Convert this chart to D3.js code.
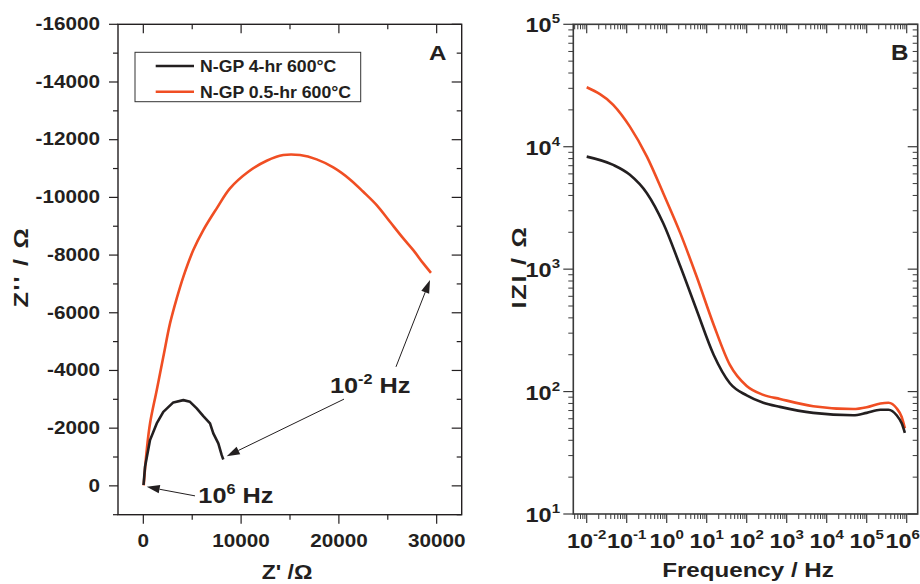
<!DOCTYPE html>
<html>
<head>
<meta charset="utf-8">
<script src="https://cdn.jsdelivr.net/npm/d3@7"></script>
<style>
  body { margin: 0; background: #fff; }
  svg { display: block; font-family: "Liberation Sans", Arial, sans-serif; font-weight: bold; }
</style>
</head>
<body>
<svg id="fig" width="920" height="584"></svg>
<script>
// Nyquist data (panel A), ohm
var zre4hr  = [20, 174, 685, 1370, 2045, 3067, 4090, 4775, 5460, 6135, 6820, 7157, 7669, 8016, 8180];
var zim4hr  = [-30, -659, -1585, -2164, -2566, -2892, -2972, -2913, -2684, -2417, -2164, -1817, -1470, -1064, -915];
var zre05hr = [40, 348, 685, 1370, 2045, 2730, 3415, 4090, 5112, 6135, 7505, 8865, 10736, 12617, 14315, 16022, 17730, 19427, 21135, 22495, 23865, 25225, 26585, 27607, 28630, 29417];
var zim05hr = [-20, -1238, -2164, -3318, -4473, -5631, -6498, -7247, -8173, -8866, -9619, -10312, -10888, -11269, -11467, -11467, -11318, -11040, -10624, -10194, -9733, -9154, -8578, -8173, -7711, -7386];

// Bode data (panel B)
var freq    = [0.01, 0.046, 0.12, 0.32, 0.82, 2.2, 5.6, 15, 38, 100, 260, 680, 4600, 46000, 1e5, 2.2e5, 3.5e5, 5.6e5, 7.5e5, 9e5];
var mod4hr  = [8300, 7100, 5900, 4170, 2370, 1050, 464, 199, 117, 93, 81, 75, 67, 64, 67, 71, 71, 64, 55, 46];
var mod05hr = [30600, 22000, 14600, 8300, 4170, 1960, 870, 350, 165, 111, 94, 87, 76, 72, 74.5, 80, 81, 73, 62, 50];

var seriesNames = ["N-GP 4-hr 600°C", "N-GP 0.5-hr 600°C"];
var seriesColors = ["#231f20", "#f04e23"];

var xTicksA = [0, 10000, 20000, 30000];
var yTicksA = [-16000, -14000, -12000, -10000, -8000, -6000, -4000, -2000, 0];
var xDecadesB = [-2, -1, 0, 1, 2, 3, 4, 5, 6];
var yDecadesB = [1, 2, 3, 4, 5];

var ink = "#231f20";
var svg = d3.select("#fig");

// text helper: parts = [[str, sup?], ...]
function txt(g, x, y, parts, size, anchor, sx, rot, ls) {
    var t = g.append("text")
        .attr("transform", "translate(" + x + "," + y + ") rotate(" + (rot || 0) + ") scale(" + (sx || 1) + ",1)")
        .attr("text-anchor", anchor || "start")
        .attr("fill", ink)
        .style("font-size", size + "px");
    if (ls) t.style("letter-spacing", ls + "px");
    var up = false;
    parts.forEach(function(p) {
        var s = t.append("tspan").text(p[0]);
        if (p[1]) { s.style("font-size", (size * 0.64) + "px").attr("dy", -size * 0.42); up = true; }
        else if (up) { s.attr("dy", size * 0.42); up = false; }
    });
    return t;
}

// ---------------- Panel A ----------------
var xA = d3.scaleLinear().domain([-2590, 32560]).range([118, 461.7]);
var yA = d3.scaleLinear().domain([1000, -16000]).range([514.7, 24.3]);
var gA = svg.append("g");

var minorXA = [5000, 15000, 25000];
var minorYA = d3.range(-15000, 1001, 2000);

xTicksA.forEach(function(v) {
    gA.append("line").attr("x1", xA(v)).attr("x2", xA(v)).attr("y1", 514.7).attr("y2", 523.7).attr("stroke", ink).attr("stroke-width", 1.2);
    gA.append("line").attr("x1", xA(v)).attr("x2", xA(v)).attr("y1", 24.3).attr("y2", 33.3).attr("stroke", ink).attr("stroke-width", 1.2);
    txt(gA, xA(v), 546.7, [[String(v)]], 18, "middle", 1.15);
});
minorXA.forEach(function(v) {
    gA.append("line").attr("x1", xA(v)).attr("x2", xA(v)).attr("y1", 514.7).attr("y2", 519.7).attr("stroke", ink).attr("stroke-width", 1.2);
    gA.append("line").attr("x1", xA(v)).attr("x2", xA(v)).attr("y1", 24.3).attr("y2", 29.3).attr("stroke", ink).attr("stroke-width", 1.2);
});
yTicksA.forEach(function(v) {
    gA.append("line").attr("x1", 109).attr("x2", 118).attr("y1", yA(v)).attr("y2", yA(v)).attr("stroke", ink).attr("stroke-width", 1.2);
    gA.append("line").attr("x1", 451.7).attr("x2", 461.7).attr("y1", yA(v)).attr("y2", yA(v)).attr("stroke", ink).attr("stroke-width", 1.2);
    txt(gA, 100, yA(v) + 5.8, [[String(v)]], 18, "end", 1.15);
});
minorYA.forEach(function(v) {
    gA.append("line").attr("x1", 113).attr("x2", 118).attr("y1", yA(v)).attr("y2", yA(v)).attr("stroke", ink).attr("stroke-width", 1.2);
    gA.append("line").attr("x1", 456.7).attr("x2", 461.7).attr("y1", yA(v)).attr("y2", yA(v)).attr("stroke", ink).attr("stroke-width", 1.2);
});
gA.append("rect").attr("x", 118).attr("y", 24.3).attr("width", 461.7 - 118).attr("height", 514.7 - 24.3)
    .attr("fill", "none").attr("stroke", ink).attr("stroke-width", 1.4);

var lineA = d3.line().x(function(d) { return xA(d[0]); }).y(function(d) { return yA(d[1]); });
gA.append("path").datum(d3.zip(zre05hr, zim05hr)).attr("d", lineA.curve(d3.curveCatmullRom.alpha(0.5)))
    .attr("fill", "none").attr("stroke", seriesColors[1]).attr("stroke-width", 2.6);
gA.append("path").datum(d3.zip(zre4hr, zim4hr)).attr("d", lineA.curve(d3.curveLinear))
    .attr("fill", "none").attr("stroke", seriesColors[0]).attr("stroke-width", 2.6).attr("stroke-linejoin", "round");

// legend
var leg = gA.append("g");
leg.append("rect").attr("x", 135).attr("y", 52.3).attr("width", 225.7).attr("height", 49.4)
    .attr("fill", "#fff").attr("stroke", "#333").attr("stroke-width", 1);
seriesNames.forEach(function(n, i) {
    var ly = 66 + i * 25.7;
    leg.append("line").attr("x1", 155.7).attr("x2", 194).attr("y1", ly).attr("y2", ly)
        .attr("stroke", seriesColors[i]).attr("stroke-width", 2.6);
    txt(leg, 200, ly + 6.3, [[n]], 17, "start", 1.04);
});
txt(gA, 429, 60, [["A"]], 21, "start", 1.15);

// annotations (data coordinates)
var arrows = [
    { from: [5286, 347], to: [348, 35] },
    { from: [20522, -3006], to: [8528, -1030] },
    { from: [25838, -4126], to: [29315, -7133] }
];
arrows.forEach(function(a) {
    var x0 = xA(a.from[0]), y0 = yA(a.from[1]), x1 = xA(a.to[0]), y1 = yA(a.to[1]);
    var ang = Math.atan2(y1 - y0, x1 - x0), L = 13, W = 4.2;
    var bx = x1 - L * Math.cos(ang), by = y1 - L * Math.sin(ang);
    gA.append("line").attr("x1", x0).attr("y1", y0).attr("x2", bx).attr("y2", by).attr("stroke", ink).attr("stroke-width", 1);
    gA.append("path").attr("d", "M" + x1 + "," + y1 +
        "L" + (bx - W * Math.sin(ang)) + "," + (by + W * Math.cos(ang)) +
        "L" + (bx + W * Math.sin(ang)) + "," + (by - W * Math.cos(ang)) + "Z").attr("fill", ink);
});
txt(gA, xA(19090), yA(-3225), [["10"], ["-2", true], [" Hz"]], 22, "start", 1.15);
txt(gA, xA(5624), yA(609), [["10"], ["6", true], [" Hz"]], 22, "start", 1.15);

txt(gA, 28, 267, [["Z'' / Ω"]], 21, "middle", 1.2, -90, 1.5);
txt(gA, 287, 579, [["Z' /Ω"]], 20, "middle", 1.15);

// ---------------- Panel B ----------------
var xB = d3.scaleLog().domain([Math.pow(10, -2.335), Math.pow(10, 6.275)]).range([573.3, 917.7]);
var yB = d3.scaleLog().domain([10, 1e5]).range([514, 24.3]);
var gB = svg.append("g");
var axB = "#3a3a3a";

var minorX = [], minorY = [];
d3.range(-3, 7).forEach(function(e) {
    d3.range(2, 10).forEach(function(m) {
        var v = m * Math.pow(10, e);
        if (v > xB.domain()[0] && v < xB.domain()[1]) minorX.push(v);
    });
});
d3.range(1, 5).forEach(function(e) {
    d3.range(2, 10).forEach(function(m) { minorY.push(m * Math.pow(10, e)); });
});

xDecadesB.forEach(function(e) {
    var px = xB(Math.pow(10, e));
    gB.append("line").attr("x1", px).attr("x2", px).attr("y1", 514).attr("y2", 523).attr("stroke", axB).attr("stroke-width", 1.2);
    gB.append("line").attr("x1", px).attr("x2", px).attr("y1", 24.3).attr("y2", 33.3).attr("stroke", axB).attr("stroke-width", 1.2);
    txt(gB, e == 6 ? px - 4 : px, 548, [["10"], [String(e), true]], 21, "middle", 1.12);
});
minorX.forEach(function(v) {
    var px = xB(v);
    gB.append("line").attr("x1", px).attr("x2", px).attr("y1", 514).attr("y2", 519).attr("stroke", axB).attr("stroke-width", 1);
    gB.append("line").attr("x1", px).attr("x2", px).attr("y1", 24.3).attr("y2", 29.3).attr("stroke", axB).attr("stroke-width", 1);
});
yDecadesB.forEach(function(e) {
    var py = yB(Math.pow(10, e));
    gB.append("line").attr("x1", 563.3).attr("x2", 573.3).attr("y1", py).attr("y2", py).attr("stroke", axB).attr("stroke-width", 1.2);
    gB.append("line").attr("x1", 907.7).attr("x2", 917.7).attr("y1", py).attr("y2", py).attr("stroke", axB).attr("stroke-width", 1.2);
    txt(gB, 560, py + 8, [["10"], [String(e), true]], 21, "end", 1.12);
});
minorY.forEach(function(v) {
    var py = yB(v);
    gB.append("line").attr("x1", 568.3).attr("x2", 573.3).attr("y1", py).attr("y2", py).attr("stroke", axB).attr("stroke-width", 1);
    gB.append("line").attr("x1", 912.7).attr("x2", 917.7).attr("y1", py).attr("y2", py).attr("stroke", axB).attr("stroke-width", 1);
});
gB.append("rect").attr("x", 573.3).attr("y", 24.3).attr("width", 917.7 - 573.3).attr("height", 514 - 24.3)
    .attr("fill", "none").attr("stroke", axB).attr("stroke-width", 1.6);

var lineB = d3.line().x(function(d) { return xB(d[0]); }).y(function(d) { return yB(d[1]); }).curve(d3.curveMonotoneX);
gB.append("path").datum(d3.zip(freq, mod05hr)).attr("d", lineB)
    .attr("fill", "none").attr("stroke", seriesColors[1]).attr("stroke-width", 2.6);
gB.append("path").datum(d3.zip(freq, mod4hr)).attr("d", lineB)
    .attr("fill", "none").attr("stroke", seriesColors[0]).attr("stroke-width", 2.6);

txt(gB, 891, 60, [["B"]], 22, "start", 1.1);
txt(gB, 748, 577, [["Frequency / Hz"]], 21, "middle", 1.15);
txt(gB, 526, 267, [["IZI / Ω"]], 21, "middle", 1.2, -90, 1.5);
</script>
</body>
</html>
